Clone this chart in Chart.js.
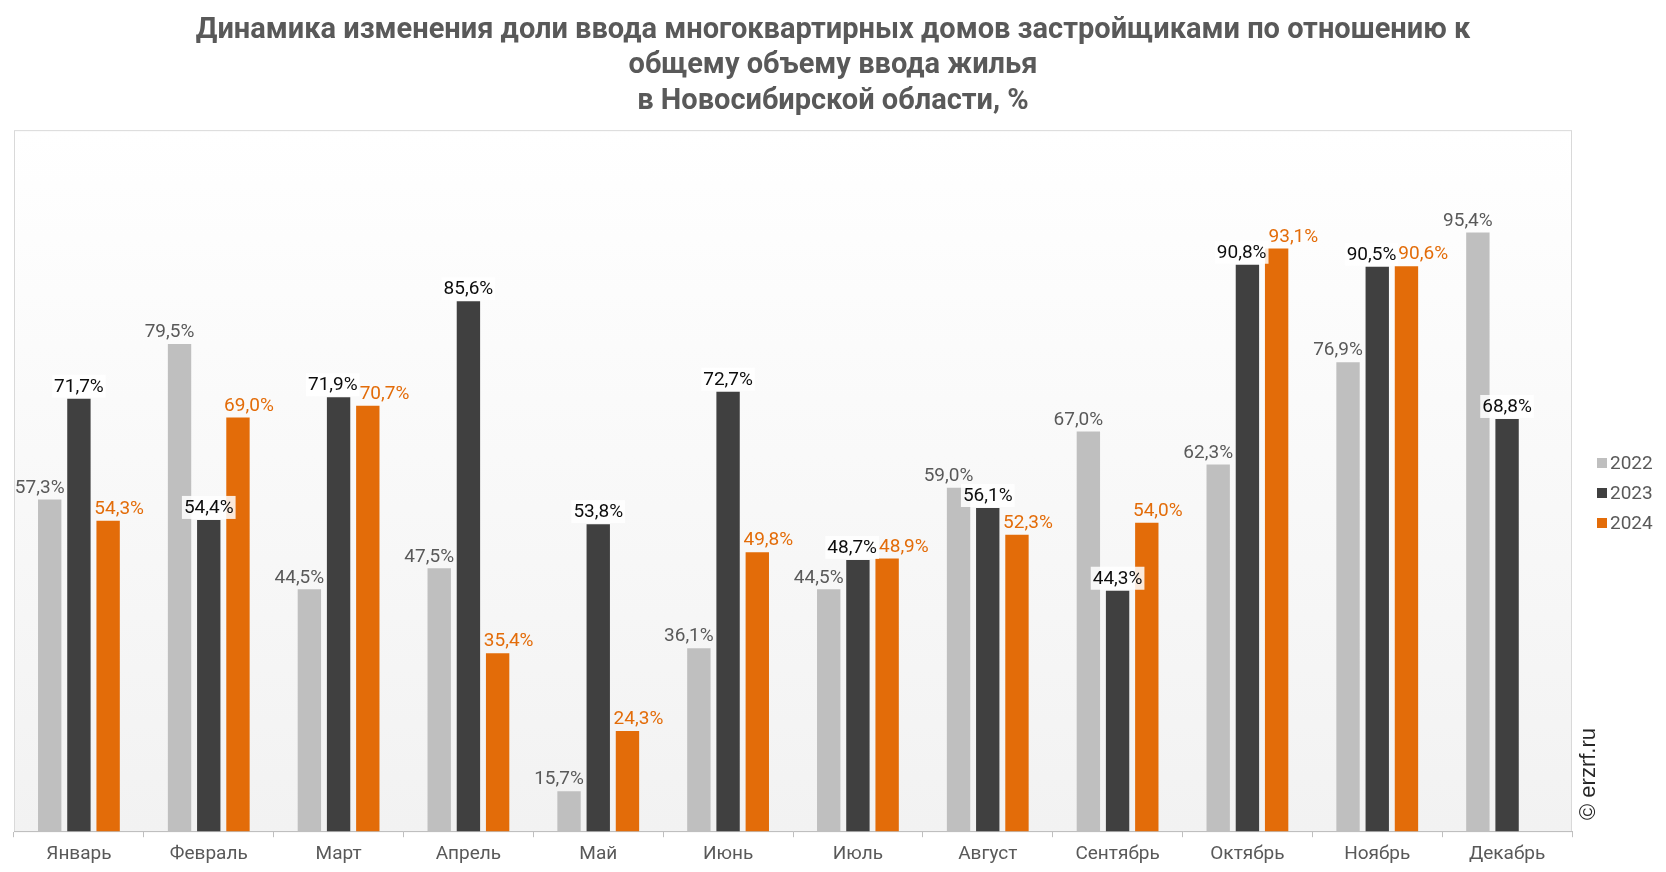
<!DOCTYPE html>
<html lang="ru">
<head>
<meta charset="UTF-8">
<title>Доля ввода МКД застройщиками, Новосибирская область</title>
<style>
    body { margin: 0; background: #fff; }
    .chart-box { width: 1666px; height: 872px; }
</style>
</head>
<body>
<div class="chart-box">
    <canvas id="mychart"></canvas>
</div>
<script src="https://cdn.jsdelivr.net/npm/chart.js@4.4.1/dist/chart.umd.min.js"></script>
<script>
    // данные
    const months = ['Январь', 'Февраль', 'Март', 'Апрель', 'Май', 'Июнь',
                    'Июль', 'Август', 'Сентябрь', 'Октябрь', 'Ноябрь', 'Декабрь'];
    const years = ['2022', '2023', '2024'];
    const share2022 = [57.3, 79.5, 44.5, 47.5, 15.7, 36.1, 44.5, 59.0, 67.0, 62.3, 76.9, 95.4];
    const share2023 = [71.7, 54.4, 71.9, 85.6, 53.8, 72.7, 48.7, 56.1, 44.3, 90.8, 90.5, 68.8];
    const share2024 = [54.3, 69.0, 70.7, 35.4, 24.3, 49.8, 48.9, 52.3, 54.0, 93.1, 90.6, null];

    const barColors = ['#bfbfbf', '#404040', '#e36c09'];
    const labelColors = ['#595959', '#0d0d0d', '#e36c09'];
    const labelShift = [-10, 0, 11];   // подписи 2022 чуть левее, 2024 чуть правее
    const textGray = '#595959';

    const fmt = v => v.toFixed(1).replace('.', ',') + '%';

    // фон области построения
    const plotBg = {
        id: 'plotBg',
        beforeDraw(chart) {
            const { ctx, chartArea: a } = chart;
            const g = ctx.createLinearGradient(0, a.top, 0, a.bottom);
            g.addColorStop(0, '#ffffff');
            g.addColorStop(1, '#f2f2f2');
            ctx.save();
            ctx.fillStyle = g;
            ctx.fillRect(a.left, a.top, a.right - a.left, a.bottom - a.top);
            ctx.strokeStyle = '#d9d9d9';
            ctx.lineWidth = 1;
            ctx.strokeRect(a.left + 0.5, a.top + 0.5, a.right - a.left - 1, a.bottom - a.top);
            ctx.restore();
        }
    };

    // подписи значений над столбцами
    const valueLabels = {
        id: 'valueLabels',
        afterDatasetsDraw(chart) {
            const ctx = chart.ctx;
            ctx.save();
            ctx.font = '19px Roboto';
            ctx.textAlign = 'center';
            ctx.textBaseline = 'bottom';
            for (let i = 0; i < months.length; i++) {
                const items = [];
                chart.data.datasets.forEach((ds, d) => {
                    const v = ds.data[i];
                    if (v == null) return;
                    const bar = chart.getDatasetMeta(d).data[i];
                    const text = fmt(v);
                    items.push({ d, text, x: bar.x + labelShift[d], y: bar.y - 2, w: ctx.measureText(text).width });
                });
                // раздвигаем соседние подписи, если они наезжают друг на друга
                for (let k = 0; k < items.length - 1; k++) {
                    const p = items[k], q = items[k + 1];
                    if (Math.abs(p.y - q.y) < 19) {
                        const overlap = (p.x + p.w / 2) - (q.x - q.w / 2) + 2;
                        if (overlap > 0) { p.x -= overlap / 2; q.x += overlap / 2; }
                    }
                }
                items.forEach(it => {
                    if (it.d === 1) {
                        ctx.fillStyle = 'rgba(255,255,255,0.85)';
                        ctx.fillRect(it.x - it.w / 2 - 2, it.y - 22, it.w + 4, 23);
                    }
                    ctx.fillStyle = labelColors[it.d];
                    ctx.fillText(it.text, it.x, it.y);
                });
            }
            ctx.restore();
        }
    };

    // легенда справа и знак erzrf.ru
    const sideLegend = {
        id: 'sideLegend',
        afterDraw(chart) {
            const ctx = chart.ctx;
            ctx.save();
            ctx.font = '19px Roboto';
            ctx.textBaseline = 'middle';
            years.forEach((y, k) => {
                const cy = 463 + k * 30;
                ctx.fillStyle = barColors[k];
                ctx.fillRect(1597, cy - 5, 10, 10);
                ctx.fillStyle = textGray;
                ctx.fillText(y, 1610, cy + 1);
            });
            ctx.translate(1589, 774);
            ctx.rotate(-Math.PI / 2);
            ctx.font = '22px "Liberation Sans"';
            ctx.textAlign = 'center';
            ctx.fillStyle = '#262626';
            ctx.fillText('© erzrf.ru', 0, 0);
            ctx.restore();
        }
    };

    // пустые оси только для отступов слева и справа (заголовок остаётся по центру страницы)
    const spacer = w => ({
        display: true,
        ticks: { display: false },
        grid: { display: false },
        border: { display: false },
        afterFit(scale) { scale.width = w; }
    });

    new Chart(document.getElementById('mychart'), {
        type: 'bar',
        data: {
            labels: months,
            datasets: [
                { label: years[0], data: share2022, backgroundColor: barColors[0] },
                { label: years[1], data: share2023, backgroundColor: barColors[1] },
                { label: years[2], data: share2024, backgroundColor: barColors[2] }
            ]
        },
        options: {
            responsive: true,
            maintainAspectRatio: false,
            devicePixelRatio: 1,
            animation: false,
            datasets: {
                bar: { categoryPercentage: 0.675, barPercentage: 0.8 }
            },
            layout: { padding: 0 },
            plugins: {
                legend: { display: false },
                tooltip: { enabled: false },
                title: {
                    display: true,
                    text: ['Динамика изменения доли ввода многоквартирных домов застройщиками по отношению к',
                           'общему объему ввода жилья',
                           'в Новосибирской области, %'],
                    color: textGray,
                    font: { family: 'Roboto', size: 29, weight: 'bold', lineHeight: 1.22 },
                    padding: { top: 13, bottom: 11 }
                }
            },
            scales: {
                x: {
                    grid: { offset: true, drawOnChartArea: false, tickLength: 6, color: '#bfbfbf' },
                    border: { color: '#bfbfbf' },
                    ticks: { color: textGray, font: { family: 'Roboto', size: 19 }, padding: 6 }
                },
                y: Object.assign(spacer(14), { position: 'left', min: 10, max: 110 }),
                yRight: Object.assign(spacer(94), { position: 'right', min: 10, max: 110 })
            }
        },
        plugins: [plotBg, valueLabels, sideLegend]
    });
</script>
</body>
</html>
